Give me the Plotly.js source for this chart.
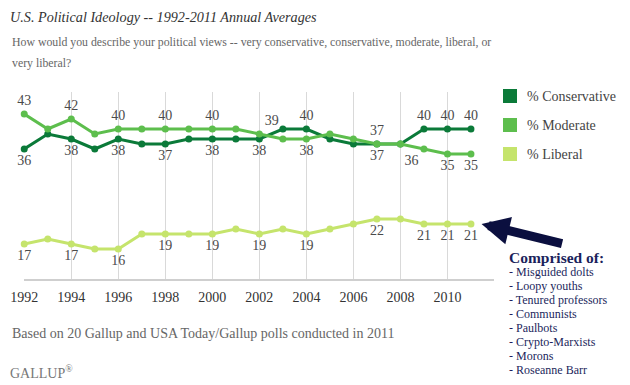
<!DOCTYPE html>
<html>
<head>
<meta charset="utf-8">
<script src="https://cdn.plot.ly/plotly-3.0.1.min.js"></script>
<style>html,body{margin:0;padding:0;background:#fff;}#chart{width:630px;height:385px;}</style>
</head>
<body>
<div id="chart"></div>
<script>
// ---- data ----
const years = [1992,1993,1994,1995,1996,1997,1998,1999,2000,2001,2002,2003,2004,2005,2006,2007,2008,2009,2010,2011];
const conservative = [36,39,38,36,38,37,37,38,38,38,38,40,40,38,37,37,37,40,40,40];
const moderate     = [43,40,42,39,40,40,40,40,40,40,39,38,38,39,38,37,37,36,35,35];
const liberal      = [17,18,17,16,16,19,19,19,19,20,19,20,19,20,21,22,22,21,21,21];
const labeledYears = [1992,1994,1996,1998,2000,2002,2004,2007,2009,2010,2011];
const tickYears = [1992,1994,1996,1998,2000,2002,2004,2006,2008,2010];
const seriesNames = ['% Conservative','% Moderate','% Liberal'];
const libItems = ['- Misguided dolts','- Loopy youths','- Tenured professors','- Communists','- Paulbots','- Crypto-Marxists','- Morons','- Roseanne Barr'];

// ---- styling ----
const FONT = '"Liberation Serif", "DejaVu Serif", serif';
const colors = ['#0b7a39','#5dbe4d','#c5e46c'];
const L = 24, R = 494, T = 92, B = 279, W = 630, H = 385;
const xp = px => (px - L) / (R - L);
const yp = py => (B - py) / (B - T);

function labels(vals){ return years.map((y,i)=> labeledYears.includes(y) ? String(vals[i]) : ''); }
const consPos = years.map(y => [2004,2007,2009,2010,2011].includes(y) ? 'top center' : 'bottom center');
const modPos = years.map(y => y===2002 ? 'top right' : (y===2009 ? 'bottom left' : ([2004,2007,2010,2011].includes(y) ? 'bottom center' : 'top center')));
const libPos = years.map(() => 'bottom center');

function trace(vals, name, color, pos){
  return {x: years, y: vals, name: name, type: 'scatter', mode: 'lines+markers+text',
    line: {color: color, width: 3}, marker: {color: color, size: 7},
    text: labels(vals), textposition: pos, cliponaxis: false,
    textfont: {family: FONT, size: 14, color: '#4a4a4a'}, hoverinfo: 'skip', showlegend: false};
}

const data = [
  trace(liberal, seriesNames[2], colors[2], libPos),
  trace(conservative, seriesNames[0], colors[0], consPos),
  trace(moderate, seriesNames[1], colors[1], modPos)
];

const annotations = [
  {xref:'paper', yref:'paper', x: xp(10), y: yp(42), xanchor:'left', yanchor:'middle', showarrow:false,
   text:'How would you describe your political views -- very conservative, conservative, moderate, liberal, or',
   font:{family:FONT, size:11.8, color:'#666'}},
  {xref:'paper', yref:'paper', x: xp(10), y: yp(63), xanchor:'left', yanchor:'middle', showarrow:false,
   text:'very liberal?', font:{family:FONT, size:11.8, color:'#666'}},
  {xref:'paper', yref:'paper', x: xp(10), y: yp(333), xanchor:'left', yanchor:'middle', showarrow:false,
   text:'Based on 20 Gallup and USA Today/Gallup polls conducted in 2011', font:{family:FONT, size:14, color:'#666'}},
  {xref:'paper', yref:'paper', x: xp(8), y: yp(372), xanchor:'left', yanchor:'middle', showarrow:false,
   text:'GALLUP<sup style="font-size:8px">®</sup>', font:{family:FONT, size:14, color:'#777'}},
  // big arrow pointing at the latest liberal value
  {x: 2011.45, y: liberal[liberal.length-1], xref:'x', yref:'y', ax: 82, ay: 20, text:'', showarrow:true,
   arrowhead:2, arrowsize:0.62, arrowwidth:9, arrowcolor:'#0b0f3f', standoff:0},
  {xref:'paper', yref:'paper', x: xp(507), y: yp(257), xanchor:'left', yanchor:'middle', showarrow:false,
   text:'<b>Comprised of:</b>', font:{family:FONT, size:15.5, color:'#1b1f5c'}}
];
libItems.forEach((t,i)=>{
  annotations.push({xref:'paper', yref:'paper', x: xp(507), y: yp(272 + i*14), xanchor:'left', yanchor:'middle',
    showarrow:false, text:t, font:{family:FONT, size:12, color:'#1b1f5c'}});
});

const shapes = [];
// legend swatches + labels
seriesNames.forEach((n,i)=>{
  const cy = 96 + i*29;
  shapes.push({type:'rect', xref:'paper', yref:'paper', x0: xp(503), x1: xp(517), y0: yp(cy+7), y1: yp(cy-7),
    fillcolor: colors[i], line:{width:0}});
  annotations.push({xref:'paper', yref:'paper', x: xp(525), y: yp(cy), xanchor:'left', yanchor:'middle',
    showarrow:false, text:n, font:{family:FONT, size:14, color:'#444'}});
});

const layout = {
  width: W, height: H,
  margin: {l: L, r: W - R, t: T, b: H - B, pad: 0},
  paper_bgcolor: '#fff', plot_bgcolor: '#fff',
  title: {text: '<i>U.S. Political Ideology -- 1992-2011 Annual Averages</i>', x: 10/W, xanchor: 'left',
    y: 1 - 17/H, yanchor: 'middle', font: {family: FONT, size: 14.2, color: '#333'}},
  xaxis: {range: [1991.99, 2011.98], tickvals: tickYears, ticktext: tickYears.map(String),
    showgrid: true, gridcolor: '#d9d9d9', gridwidth: 1, zeroline: false,
    showline: true, linecolor: '#cfcfcf', linewidth: 2, ticks: '', ticklabelstandoff: 4,
    tickfont: {family: FONT, size: 14, color: '#333'}, fixedrange: true},
  yaxis: {range: [10, 47.4], visible: false, showgrid: false, zeroline: false, fixedrange: true},
  showlegend: false, hovermode: false,
  annotations: annotations, shapes: shapes
};

Plotly.newPlot('chart', data, layout, {staticPlot: true, displayModeBar: false});
</script>
</body>
</html>
